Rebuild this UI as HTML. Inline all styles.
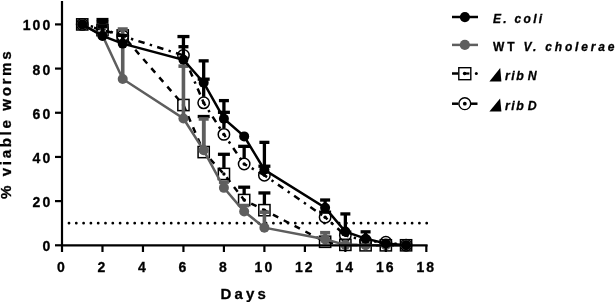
<!DOCTYPE html>
<html><head><meta charset="utf-8"><style>
html,body{margin:0;padding:0;background:#fff;}
body{width:615px;height:302px;overflow:hidden;}
svg{display:block;will-change:transform;}
text{font-family:"Liberation Sans",sans-serif;font-weight:bold;fill:#000;stroke:#000;stroke-width:0.3px;}
.t{font-size:14px;letter-spacing:2px;}
.tt{font-size:15px;letter-spacing:3.2px;}
.yt{font-size:15.2px;letter-spacing:2.6px;}
.lg{font-size:12px;letter-spacing:2.3px;}
.lg2{font-size:12px;letter-spacing:2.8px;}
.lg3{font-size:12.3px;letter-spacing:1.5px;}
</style></head><body>
<svg width="615" height="302" viewBox="0 0 615 302">
<line x1="69" y1="223.21" x2="427" y2="223.21" stroke="#000" stroke-width="2.8" stroke-linecap="round" stroke-dasharray="0 7.3"/>
<line x1="102.48" y1="24.14" x2="102.48" y2="22.19" stroke="#000" stroke-width="3.3"/>
<line x1="96.48" y1="22.19" x2="108.48" y2="22.19" stroke="#000" stroke-width="3.3"/>
<line x1="203.68" y1="146.08" x2="203.68" y2="116.52" stroke="#000" stroke-width="3.3"/>
<line x1="197.68" y1="116.52" x2="209.68" y2="116.52" stroke="#000" stroke-width="3.3"/>
<line x1="223.92" y1="167.95" x2="223.92" y2="154.29" stroke="#000" stroke-width="3.3"/>
<line x1="217.92" y1="154.29" x2="229.92" y2="154.29" stroke="#000" stroke-width="3.3"/>
<line x1="244.16" y1="194.02" x2="244.16" y2="187.20" stroke="#000" stroke-width="3.3"/>
<line x1="238.16" y1="187.20" x2="250.16" y2="187.20" stroke="#000" stroke-width="3.3"/>
<line x1="264.40" y1="204.18" x2="264.40" y2="192.95" stroke="#000" stroke-width="3.3"/>
<line x1="258.40" y1="192.95" x2="270.40" y2="192.95" stroke="#000" stroke-width="3.3"/>
<polyline points="82.24,24.40 102.48,30.14 122.72,35.44 183.44,105.03 203.68,152.08 223.92,173.95 244.16,200.02 264.40,210.18 325.12,241.77 345.36,244.86 365.60,245.30 385.84,245.30 406.08,245.30" fill="none" stroke="#000" stroke-width="2.5" stroke-dasharray="6 6.2"/>
<rect x="76.64" y="18.80" width="11.2" height="11.2" fill="none" stroke="#000" stroke-width="1.5"/>
<circle cx="82.24" cy="24.40" r="1.7" fill="#000"/>
<rect x="96.88" y="24.54" width="11.2" height="11.2" fill="none" stroke="#000" stroke-width="1.5"/>
<circle cx="102.48" cy="30.14" r="1.7" fill="#000"/>
<rect x="117.12" y="29.84" width="11.2" height="11.2" fill="none" stroke="#000" stroke-width="1.5"/>
<circle cx="122.72" cy="35.44" r="1.7" fill="#000"/>
<rect x="177.84" y="99.43" width="11.2" height="11.2" fill="none" stroke="#000" stroke-width="1.5"/>
<circle cx="183.44" cy="105.03" r="1.7" fill="#000"/>
<rect x="198.08" y="146.48" width="11.2" height="11.2" fill="none" stroke="#000" stroke-width="1.5"/>
<circle cx="203.68" cy="152.08" r="1.7" fill="#000"/>
<rect x="218.32" y="168.35" width="11.2" height="11.2" fill="none" stroke="#000" stroke-width="1.5"/>
<circle cx="223.92" cy="173.95" r="1.7" fill="#000"/>
<rect x="238.56" y="194.42" width="11.2" height="11.2" fill="none" stroke="#000" stroke-width="1.5"/>
<circle cx="244.16" cy="200.02" r="1.7" fill="#000"/>
<rect x="258.80" y="204.58" width="11.2" height="11.2" fill="none" stroke="#000" stroke-width="1.5"/>
<circle cx="264.40" cy="210.18" r="1.7" fill="#000"/>
<rect x="319.52" y="236.17" width="11.2" height="11.2" fill="none" stroke="#000" stroke-width="1.5"/>
<circle cx="325.12" cy="241.77" r="1.7" fill="#000"/>
<rect x="339.76" y="239.26" width="11.2" height="11.2" fill="none" stroke="#000" stroke-width="1.5"/>
<circle cx="345.36" cy="244.86" r="1.7" fill="#000"/>
<rect x="360.00" y="239.70" width="11.2" height="11.2" fill="none" stroke="#000" stroke-width="1.5"/>
<circle cx="365.60" cy="245.30" r="1.7" fill="#000"/>
<rect x="380.24" y="239.70" width="11.2" height="11.2" fill="none" stroke="#000" stroke-width="1.5"/>
<circle cx="385.84" cy="245.30" r="1.7" fill="#000"/>
<rect x="400.48" y="239.70" width="11.2" height="11.2" fill="none" stroke="#000" stroke-width="1.5"/>
<circle cx="406.08" cy="245.30" r="1.7" fill="#000"/>
<line x1="102.48" y1="22.82" x2="102.48" y2="19.54" stroke="#000" stroke-width="3.3"/>
<line x1="96.48" y1="19.54" x2="108.48" y2="19.54" stroke="#000" stroke-width="3.3"/>
<line x1="183.44" y1="49.33" x2="183.44" y2="36.55" stroke="#000" stroke-width="3.3"/>
<line x1="177.44" y1="36.55" x2="189.44" y2="36.55" stroke="#000" stroke-width="3.3"/>
<line x1="203.68" y1="96.82" x2="203.68" y2="79.18" stroke="#000" stroke-width="3.3"/>
<line x1="197.68" y1="79.18" x2="209.68" y2="79.18" stroke="#000" stroke-width="3.3"/>
<line x1="223.92" y1="128.41" x2="223.92" y2="112.32" stroke="#000" stroke-width="3.3"/>
<line x1="217.92" y1="112.32" x2="229.92" y2="112.32" stroke="#000" stroke-width="3.3"/>
<line x1="244.16" y1="158.01" x2="244.16" y2="146.34" stroke="#000" stroke-width="3.3"/>
<line x1="238.16" y1="146.34" x2="250.16" y2="146.34" stroke="#000" stroke-width="3.3"/>
<line x1="264.40" y1="169.27" x2="264.40" y2="166.22" stroke="#000" stroke-width="3.3"/>
<line x1="258.40" y1="166.22" x2="270.40" y2="166.22" stroke="#000" stroke-width="3.3"/>
<line x1="325.12" y1="211.25" x2="325.12" y2="212.17" stroke="#000" stroke-width="3.3"/>
<line x1="319.12" y1="212.17" x2="331.12" y2="212.17" stroke="#000" stroke-width="3.3"/>
<line x1="345.36" y1="229.36" x2="345.36" y2="232.05" stroke="#000" stroke-width="3.3"/>
<line x1="339.36" y1="232.05" x2="351.36" y2="232.05" stroke="#000" stroke-width="3.3"/>
<line x1="82.24" y1="24.40" x2="102.48" y2="28.82" stroke="#000" stroke-width="2.5" stroke-dasharray="6.5 5.4 2.4 5.4" stroke-dashoffset="3.25"/>
<line x1="102.48" y1="28.82" x2="122.72" y2="36.11" stroke="#000" stroke-width="2.5" stroke-dasharray="6.5 5.4 2.4 5.4" stroke-dashoffset="3.25"/>
<line x1="122.72" y1="36.11" x2="183.44" y2="55.33" stroke="#000" stroke-width="2.5" stroke-dasharray="6.5 5.4 2.4 5.4" stroke-dashoffset="3.25"/>
<line x1="183.44" y1="55.33" x2="203.68" y2="102.82" stroke="#000" stroke-width="2.5" stroke-dasharray="6.5 5.4 2.4 5.4" stroke-dashoffset="3.25"/>
<line x1="203.68" y1="102.82" x2="223.92" y2="134.41" stroke="#000" stroke-width="2.5" stroke-dasharray="6.5 5.4 2.4 5.4" stroke-dashoffset="3.25"/>
<line x1="223.92" y1="134.41" x2="244.16" y2="164.01" stroke="#000" stroke-width="2.5" stroke-dasharray="6.5 5.4 2.4 5.4" stroke-dashoffset="3.25"/>
<line x1="244.16" y1="164.01" x2="264.40" y2="175.27" stroke="#000" stroke-width="2.5" stroke-dasharray="6.5 5.4 2.4 5.4" stroke-dashoffset="3.25"/>
<line x1="264.40" y1="175.27" x2="325.12" y2="217.25" stroke="#000" stroke-width="2.5" stroke-dasharray="6.5 5.4 2.4 5.4" stroke-dashoffset="3.25"/>
<line x1="325.12" y1="217.25" x2="345.36" y2="235.36" stroke="#000" stroke-width="2.5" stroke-dasharray="6.5 5.4 2.4 5.4" stroke-dashoffset="3.25"/>
<line x1="345.36" y1="235.36" x2="365.60" y2="240.88" stroke="#000" stroke-width="2.5" stroke-dasharray="6.5 5.4 2.4 5.4" stroke-dashoffset="3.25"/>
<line x1="365.60" y1="240.88" x2="385.84" y2="242.21" stroke="#000" stroke-width="2.5" stroke-dasharray="6.5 5.4 2.4 5.4" stroke-dashoffset="3.25"/>
<line x1="385.84" y1="242.21" x2="406.08" y2="245.30" stroke="#000" stroke-width="2.5" stroke-dasharray="6.5 5.4 2.4 5.4" stroke-dashoffset="3.25"/>
<circle cx="82.24" cy="24.40" r="5.7" fill="none" stroke="#000" stroke-width="1.5"/>
<circle cx="82.24" cy="24.40" r="1.7" fill="#000"/>
<circle cx="102.48" cy="28.82" r="5.7" fill="none" stroke="#000" stroke-width="1.5"/>
<circle cx="102.48" cy="28.82" r="1.7" fill="#000"/>
<circle cx="122.72" cy="36.11" r="5.7" fill="none" stroke="#000" stroke-width="1.5"/>
<circle cx="122.72" cy="36.11" r="1.7" fill="#000"/>
<circle cx="183.44" cy="55.33" r="5.7" fill="none" stroke="#000" stroke-width="1.5"/>
<circle cx="183.44" cy="55.33" r="1.7" fill="#000"/>
<circle cx="203.68" cy="102.82" r="5.7" fill="none" stroke="#000" stroke-width="1.5"/>
<circle cx="203.68" cy="102.82" r="1.7" fill="#000"/>
<circle cx="223.92" cy="134.41" r="5.7" fill="none" stroke="#000" stroke-width="1.5"/>
<circle cx="223.92" cy="134.41" r="1.7" fill="#000"/>
<circle cx="244.16" cy="164.01" r="5.7" fill="none" stroke="#000" stroke-width="1.5"/>
<circle cx="244.16" cy="164.01" r="1.7" fill="#000"/>
<circle cx="264.40" cy="175.27" r="5.7" fill="none" stroke="#000" stroke-width="1.5"/>
<circle cx="264.40" cy="175.27" r="1.7" fill="#000"/>
<circle cx="325.12" cy="217.25" r="5.7" fill="none" stroke="#000" stroke-width="1.5"/>
<circle cx="325.12" cy="217.25" r="1.7" fill="#000"/>
<circle cx="345.36" cy="235.36" r="5.7" fill="none" stroke="#000" stroke-width="1.5"/>
<circle cx="345.36" cy="235.36" r="1.7" fill="#000"/>
<circle cx="365.60" cy="240.88" r="5.7" fill="none" stroke="#000" stroke-width="1.5"/>
<circle cx="365.60" cy="240.88" r="1.7" fill="#000"/>
<circle cx="385.84" cy="242.21" r="5.7" fill="none" stroke="#000" stroke-width="1.5"/>
<circle cx="385.84" cy="242.21" r="1.7" fill="#000"/>
<circle cx="406.08" cy="245.30" r="5.7" fill="none" stroke="#000" stroke-width="1.5"/>
<circle cx="406.08" cy="245.30" r="1.7" fill="#000"/>
<line x1="102.48" y1="35.44" x2="102.48" y2="26.61" stroke="#5e5e5e" stroke-width="3.6"/>
<line x1="97.48" y1="26.61" x2="107.48" y2="26.61" stroke="#5e5e5e" stroke-width="3.6"/>
<line x1="122.72" y1="78.96" x2="122.72" y2="29.04" stroke="#5e5e5e" stroke-width="3.6"/>
<line x1="117.72" y1="29.04" x2="127.72" y2="29.04" stroke="#5e5e5e" stroke-width="3.6"/>
<line x1="183.44" y1="118.50" x2="183.44" y2="66.15" stroke="#5e5e5e" stroke-width="3.6"/>
<line x1="178.44" y1="66.15" x2="188.44" y2="66.15" stroke="#5e5e5e" stroke-width="3.6"/>
<line x1="203.68" y1="150.31" x2="203.68" y2="118.95" stroke="#5e5e5e" stroke-width="3.6"/>
<line x1="198.68" y1="118.95" x2="208.68" y2="118.95" stroke="#5e5e5e" stroke-width="3.6"/>
<line x1="223.92" y1="187.87" x2="223.92" y2="182.12" stroke="#5e5e5e" stroke-width="3.6"/>
<line x1="218.92" y1="182.12" x2="228.92" y2="182.12" stroke="#5e5e5e" stroke-width="3.6"/>
<line x1="244.16" y1="211.50" x2="244.16" y2="205.54" stroke="#5e5e5e" stroke-width="3.6"/>
<line x1="239.16" y1="205.54" x2="249.16" y2="205.54" stroke="#5e5e5e" stroke-width="3.6"/>
<line x1="264.40" y1="227.63" x2="264.40" y2="212.17" stroke="#5e5e5e" stroke-width="3.6"/>
<line x1="259.40" y1="212.17" x2="269.40" y2="212.17" stroke="#5e5e5e" stroke-width="3.6"/>
<line x1="325.12" y1="239.34" x2="325.12" y2="232.71" stroke="#5e5e5e" stroke-width="3.6"/>
<line x1="320.12" y1="232.71" x2="330.12" y2="232.71" stroke="#5e5e5e" stroke-width="3.6"/>
<polyline points="82.24,24.40 102.48,35.44 122.72,78.96 183.44,118.50 203.68,150.31 223.92,187.87 244.16,211.50 264.40,227.63 325.12,239.34 345.36,244.86 365.60,245.30 385.84,245.30 406.08,245.30" fill="none" stroke="#5e5e5e" stroke-width="2.5"/>
<circle cx="82.24" cy="24.40" r="5" fill="#5e5e5e"/>
<circle cx="102.48" cy="35.44" r="5" fill="#5e5e5e"/>
<circle cx="122.72" cy="78.96" r="5" fill="#5e5e5e"/>
<circle cx="183.44" cy="118.50" r="5" fill="#5e5e5e"/>
<circle cx="203.68" cy="150.31" r="5" fill="#5e5e5e"/>
<circle cx="223.92" cy="187.87" r="5" fill="#5e5e5e"/>
<circle cx="244.16" cy="211.50" r="5" fill="#5e5e5e"/>
<circle cx="264.40" cy="227.63" r="5" fill="#5e5e5e"/>
<circle cx="325.12" cy="239.34" r="5" fill="#5e5e5e"/>
<circle cx="345.36" cy="244.86" r="5" fill="#5e5e5e"/>
<circle cx="365.60" cy="245.30" r="5" fill="#5e5e5e"/>
<circle cx="385.84" cy="245.30" r="5" fill="#5e5e5e"/>
<circle cx="406.08" cy="245.30" r="5" fill="#5e5e5e"/>
<line x1="102.48" y1="35.89" x2="102.48" y2="26.61" stroke="#000" stroke-width="3.3"/>
<line x1="97.48" y1="26.61" x2="107.48" y2="26.61" stroke="#000" stroke-width="3.3"/>
<line x1="122.72" y1="43.62" x2="122.72" y2="35.44" stroke="#000" stroke-width="3.3"/>
<line x1="117.72" y1="35.44" x2="127.72" y2="35.44" stroke="#000" stroke-width="3.3"/>
<line x1="183.44" y1="59.74" x2="183.44" y2="46.71" stroke="#000" stroke-width="3.3"/>
<line x1="178.44" y1="46.71" x2="188.44" y2="46.71" stroke="#000" stroke-width="3.3"/>
<line x1="203.68" y1="82.72" x2="203.68" y2="60.85" stroke="#000" stroke-width="3.3"/>
<line x1="198.68" y1="60.85" x2="208.68" y2="60.85" stroke="#000" stroke-width="3.3"/>
<line x1="223.92" y1="118.72" x2="223.92" y2="100.61" stroke="#000" stroke-width="3.3"/>
<line x1="218.92" y1="100.61" x2="228.92" y2="100.61" stroke="#000" stroke-width="3.3"/>
<line x1="264.40" y1="169.75" x2="264.40" y2="142.36" stroke="#000" stroke-width="3.3"/>
<line x1="259.40" y1="142.36" x2="269.40" y2="142.36" stroke="#000" stroke-width="3.3"/>
<line x1="325.12" y1="207.75" x2="325.12" y2="200.02" stroke="#000" stroke-width="3.3"/>
<line x1="320.12" y1="200.02" x2="330.12" y2="200.02" stroke="#000" stroke-width="3.3"/>
<line x1="345.36" y1="231.60" x2="345.36" y2="213.93" stroke="#000" stroke-width="3.3"/>
<line x1="340.36" y1="213.93" x2="350.36" y2="213.93" stroke="#000" stroke-width="3.3"/>
<line x1="365.60" y1="238.67" x2="365.60" y2="231.83" stroke="#000" stroke-width="3.3"/>
<line x1="360.60" y1="231.83" x2="370.60" y2="231.83" stroke="#000" stroke-width="3.3"/>
<polyline points="82.24,24.40 102.48,35.89 122.72,43.62 183.44,59.74 203.68,82.72 223.92,118.72 244.16,136.40 264.40,169.75 325.12,207.75 345.36,231.60 365.60,238.67 385.84,243.53 406.08,245.30" fill="none" stroke="#000" stroke-width="2.5"/>
<circle cx="82.24" cy="24.40" r="5" fill="#000"/>
<circle cx="102.48" cy="35.89" r="5" fill="#000"/>
<circle cx="122.72" cy="43.62" r="5" fill="#000"/>
<circle cx="183.44" cy="59.74" r="5" fill="#000"/>
<circle cx="203.68" cy="82.72" r="5" fill="#000"/>
<circle cx="223.92" cy="118.72" r="5" fill="#000"/>
<circle cx="244.16" cy="136.40" r="5" fill="#000"/>
<circle cx="264.40" cy="169.75" r="5" fill="#000"/>
<circle cx="325.12" cy="207.75" r="5" fill="#000"/>
<circle cx="345.36" cy="231.60" r="5" fill="#000"/>
<circle cx="365.60" cy="238.67" r="5" fill="#000"/>
<circle cx="385.84" cy="243.53" r="5" fill="#000"/>
<circle cx="406.08" cy="245.30" r="5" fill="#000"/>
<line x1="62" y1="1" x2="62" y2="246.3" stroke="#000" stroke-width="2.2"/>
<line x1="61" y1="245.3" x2="427.6" y2="245.3" stroke="#000" stroke-width="2.2"/>
<line x1="55" y1="245.30" x2="62" y2="245.30" stroke="#000" stroke-width="2.2"/>
<text x="52.2" y="251.30" class="t" text-anchor="end">0</text>
<line x1="55" y1="201.12" x2="62" y2="201.12" stroke="#000" stroke-width="2.2"/>
<text x="52.2" y="207.12" class="t" text-anchor="end">20</text>
<line x1="55" y1="156.94" x2="62" y2="156.94" stroke="#000" stroke-width="2.2"/>
<text x="52.2" y="162.94" class="t" text-anchor="end">40</text>
<line x1="55" y1="112.76" x2="62" y2="112.76" stroke="#000" stroke-width="2.2"/>
<text x="52.2" y="118.76" class="t" text-anchor="end">60</text>
<line x1="55" y1="68.58" x2="62" y2="68.58" stroke="#000" stroke-width="2.2"/>
<text x="52.2" y="74.58" class="t" text-anchor="end">80</text>
<line x1="55" y1="24.40" x2="62" y2="24.40" stroke="#000" stroke-width="2.2"/>
<text x="52.2" y="30.40" class="t" text-anchor="end">100</text>
<line x1="62.00" y1="245" x2="62.00" y2="252" stroke="#000" stroke-width="2.2"/>
<text x="62.00" y="272.4" class="t" text-anchor="middle">0</text>
<line x1="102.48" y1="245" x2="102.48" y2="252" stroke="#000" stroke-width="2.2"/>
<text x="102.48" y="272.4" class="t" text-anchor="middle">2</text>
<line x1="142.96" y1="245" x2="142.96" y2="252" stroke="#000" stroke-width="2.2"/>
<text x="142.96" y="272.4" class="t" text-anchor="middle">4</text>
<line x1="183.44" y1="245" x2="183.44" y2="252" stroke="#000" stroke-width="2.2"/>
<text x="183.44" y="272.4" class="t" text-anchor="middle">6</text>
<line x1="223.92" y1="245" x2="223.92" y2="252" stroke="#000" stroke-width="2.2"/>
<text x="223.92" y="272.4" class="t" text-anchor="middle">8</text>
<line x1="264.40" y1="245" x2="264.40" y2="252" stroke="#000" stroke-width="2.2"/>
<text x="264.40" y="272.4" class="t" text-anchor="middle">10</text>
<line x1="304.88" y1="245" x2="304.88" y2="252" stroke="#000" stroke-width="2.2"/>
<text x="304.88" y="272.4" class="t" text-anchor="middle">12</text>
<line x1="345.36" y1="245" x2="345.36" y2="252" stroke="#000" stroke-width="2.2"/>
<text x="345.36" y="272.4" class="t" text-anchor="middle">14</text>
<line x1="385.84" y1="245" x2="385.84" y2="252" stroke="#000" stroke-width="2.2"/>
<text x="385.84" y="272.4" class="t" text-anchor="middle">16</text>
<line x1="426.32" y1="245" x2="426.32" y2="252" stroke="#000" stroke-width="2.2"/>
<text x="426.32" y="272.4" class="t" text-anchor="middle">18</text>
<text x="244.8" y="298.8" class="tt" text-anchor="middle">Days</text>
<text transform="translate(11.0,199.1) rotate(-90)" x="0" y="0" class="yt">% viable worms</text>
<line x1="452" y1="17.0" x2="478" y2="17.0" stroke="#000" stroke-width="2.5"/>
<circle cx="464.9" cy="17.05" r="5.1" fill="#000"/>
<text x="493" y="23.3" class="lg" font-style="italic">E. coli</text>
<line x1="452" y1="44.9" x2="478" y2="44.9" stroke="#5e5e5e" stroke-width="2.5"/>
<circle cx="464.85" cy="44.9" r="5.1" fill="#5e5e5e"/>
<text x="493" y="51.4" class="lg2">WT <tspan font-style="italic">V. cholerae</tspan></text>
<line x1="452" y1="73.5" x2="458.3" y2="73.5" stroke="#000" stroke-width="2.5"/>
<line x1="464.6" y1="73.5" x2="469.4" y2="73.5" stroke="#000" stroke-width="2.2"/>
<circle cx="464.6" cy="73.5" r="1.8" fill="#000"/>
<circle cx="476.3" cy="73.5" r="1.5" fill="#000"/>
<rect x="458.8" y="67.7" width="12" height="12" fill="none" stroke="#000" stroke-width="1.4"/>
<polygon points="489.4,81.6 500.2,68.1 501.4,81.6" fill="#000"/>
<text x="505" y="80" class="lg3" font-style="italic">rib<tspan dx="2.5">N</tspan></text>
<line x1="452" y1="103.7" x2="458.5" y2="103.7" stroke="#000" stroke-width="2.5"/>
<line x1="471" y1="103.7" x2="477.5" y2="103.7" stroke="#000" stroke-width="2.5"/>
<circle cx="464.8" cy="103.7" r="5.9" fill="none" stroke="#000" stroke-width="1.4"/>
<circle cx="464.8" cy="103.7" r="1.9" fill="#000"/>
<polygon points="489.4,111.6 500.1,98.4 501.4,111.6" fill="#000"/>
<text x="505" y="110.4" class="lg3" font-style="italic">rib<tspan dx="2.5">D</tspan></text>
</svg>
</body></html>
